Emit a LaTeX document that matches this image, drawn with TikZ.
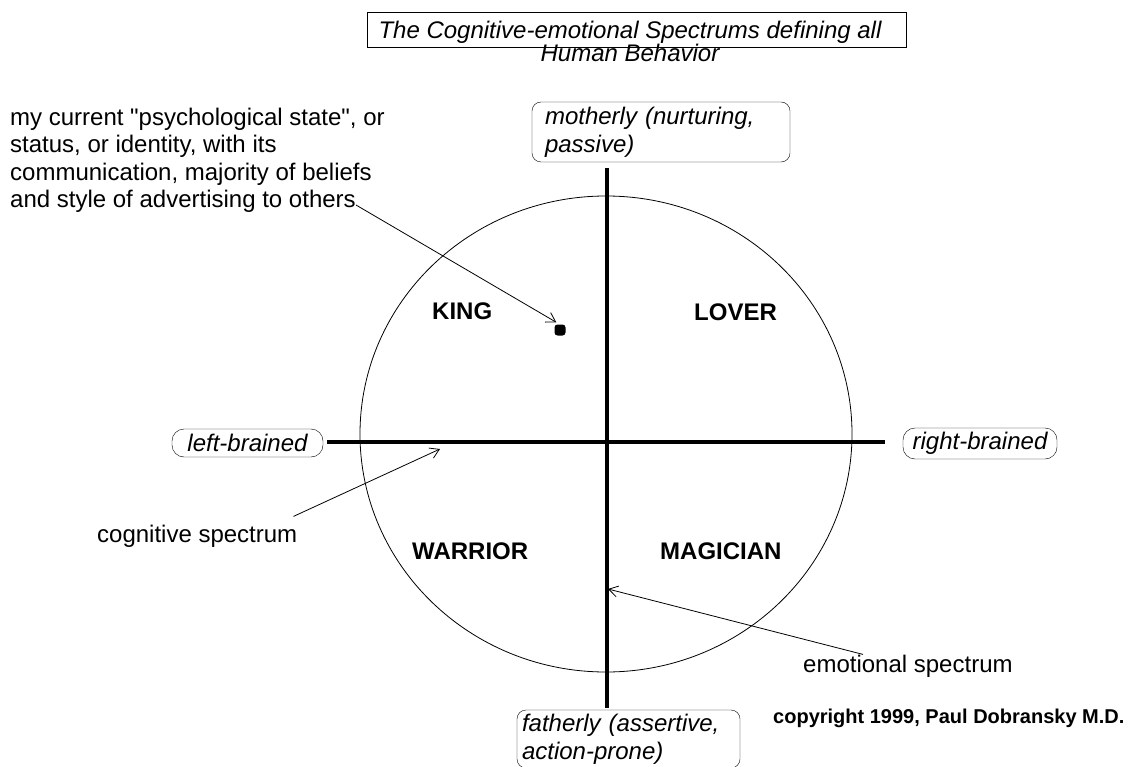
\documentclass[tikz,border=0pt]{standalone}
\usepackage{fontspec}
\setmainfont{Liberation Sans}
\usetikzlibrary{arrows.meta}

\begin{document}
\begin{tikzpicture}[
  x=1pt, y=-1pt,
  font=\fontsize{24}{27.6}\selectfont,
  txt/.style={inner sep=0pt, align=left},
  quad/.style={inner sep=0pt, anchor=base west, font=\fontsize{24}{27.6}\selectfont\bfseries},
  pole/.style={draw, rounded corners=9pt, inner sep=0pt, align=left, font=\fontsize{24}{27.6}\selectfont\itshape},
  axis/.style={line width=4pt},
  pointer/.style={-{Straight Barb[length=9pt,width=11pt]}, line width=0.8pt}
]
\useasboundingbox (0,0) rectangle (1142,767);

\node[draw, minimum width=539pt, minimum height=35pt, inner sep=0pt] (titlebox) at (636.5,29.5) {};
\node[txt, align=center, anchor=north, font=\fontsize{24}{21}\selectfont\itshape] (title) at (630,20.5)
  {The Cognitive-emotional Spectrums defining all\\Human Behavior};

\draw[line width=0.8pt] (606,434) ellipse [x radius=246pt, y radius=238pt];

\node[pole, minimum width=258pt, minimum height=60pt, text width=232pt] (mother) at (661,132)
  {motherly (nurturing,\\passive)};
\node[pole, minimum width=223pt, minimum height=58pt, text width=213pt] (father) at (628.5,739)
  {fatherly (assertive,\\action-prone)};
\node[pole, rounded corners=12pt, minimum width=151pt, minimum height=28pt] (left) at (247.5,443)
  {left-brained};
\node[pole, rounded corners=12pt, minimum width=154pt, minimum height=31pt] (right) at (980,443.5)
  {right-brained};

\coordinate (ntop) at (607,168);
\coordinate (nbot) at (607,708);
\coordinate (wend) at (327,442);
\coordinate (eend) at (885,442);
\draw[axis] (ntop) -- (nbot);
\draw[axis] (wend) -- (eend);

\node[quad] (king) at (432,319) {KING};
\node[quad] (lover) at (694,320) {LOVER};
\node[quad] (warrior) at (412,559) {WARRIOR};
\node[quad] (magician) at (660,559) {MAGICIAN};

\node[fill, rounded corners=3pt, minimum size=11pt, inner sep=0pt] (state) at (560,330) {};

\node[txt, anchor=north west] (note) at (10,107.5)
  {my current \textquotedbl psychological state\textquotedbl, or\\status, or identity, with its\\communication, majority of beliefs\\and style of advertising to others};
\node[txt, anchor=base west] (cogn) at (97,542) {cognitive spectrum};
\node[txt, anchor=base west] (emo) at (803,672) {emotional spectrum};

\coordinate (noteend) at (356,205);
\coordinate (cogtip) at (440,449);
\coordinate (emotip) at (608,589);
\draw[pointer] (noteend) -- ([shift={(2,-2)}]state.north west);
\draw[pointer] ([shift={(-4,-8)}]cogn.north east) -- (cogtip);
\draw[pointer] ([xshift=60pt]emo.north west) -- (emotip);

\node[inner sep=0pt, anchor=base west, font=\fontsize{20}{24}\selectfont\bfseries] (copy) at (773,723)
  {copyright 1999, Paul Dobransky M.D.};

\end{tikzpicture}
\end{document}
